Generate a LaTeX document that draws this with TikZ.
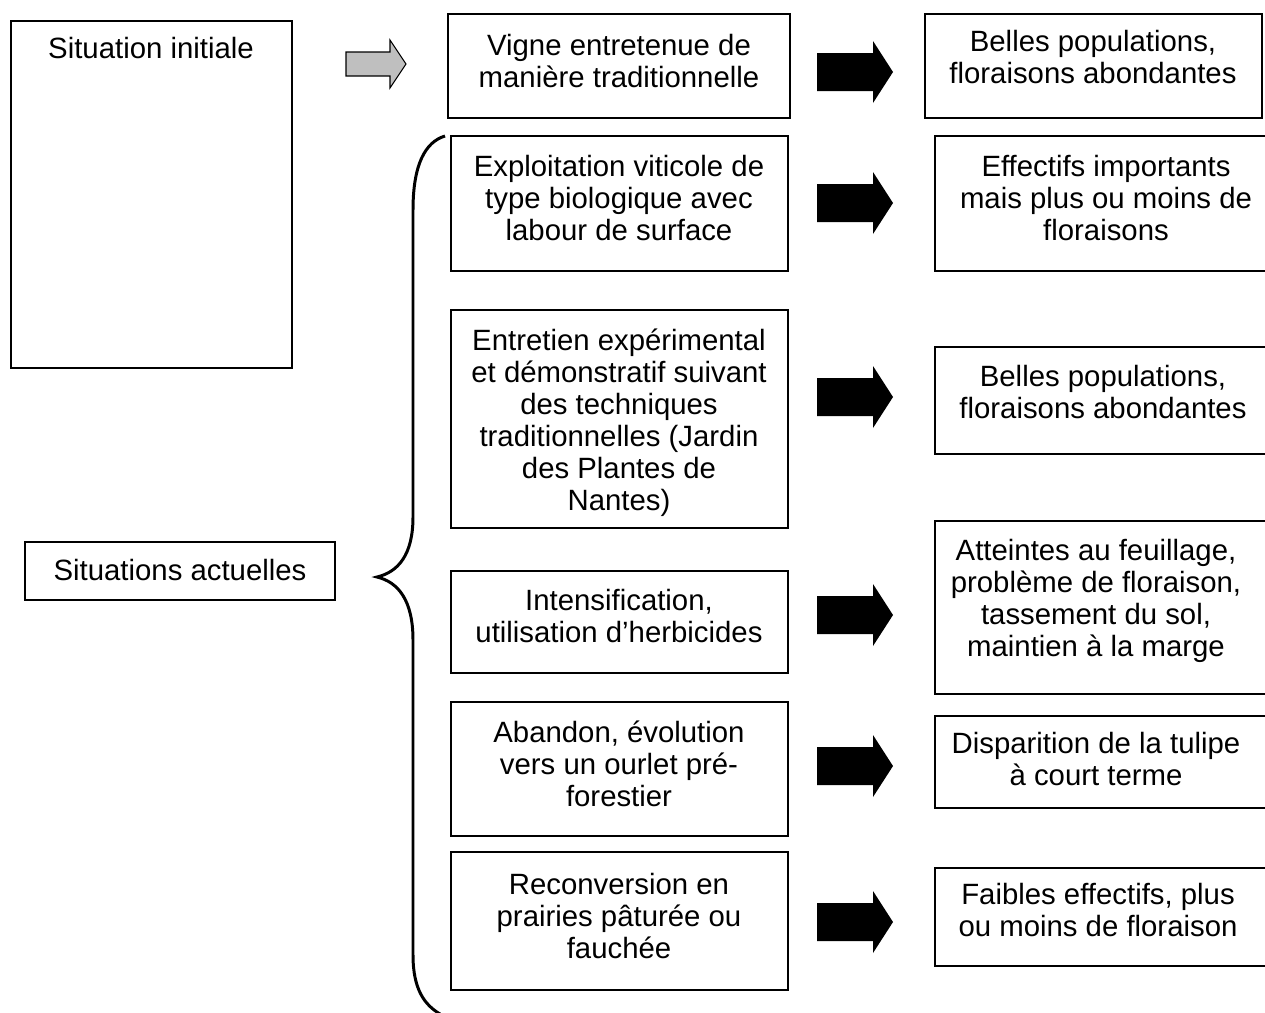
\documentclass[tikz,border=0pt]{standalone}
\usepackage{fontspec}
\setmainfont{Liberation Sans}
\usetikzlibrary{calc}

\tikzset{
  txt/.style={align=center, inner sep=0pt, font=\fontsize{16.7}{18.2}\selectfont},
  boxline/.style={line width=0.8pt},
  grayarrow/.pic={
    \filldraw[fill=gray!50, line width=0.6pt]
      (-30,-12) -- (14,-12) -- (14,-24) -- (30,0) -- (14,24) -- (14,12) -- (-30,12) -- cycle;},
  blackarrow/.pic={
    \fill[black]
      (-38,-19) -- (18,-19) -- (18,-31) -- (38,0) -- (18,31) -- (18,19) -- (-38,19) -- cycle;}
}

\begin{document}
\begin{tikzpicture}[x=0.02cm, y=-0.02cm]
  \useasboundingbox (0,0) rectangle (1265,1012);

  % left column
  \draw[boxline] (11,21) rectangle (292,368);
  \node[txt] (init) at (151,48) {Situation initiale};
  \draw[boxline] (25,542) rectangle (335,600);
  \node[txt] (actu) at (180,570) {Situations actuelles};

  % middle column
  \draw[boxline] (448,14) rectangle (790,118);
  \node[txt] (vigne) at (619,61) {Vigne entretenue de\\mani\`ere traditionnelle};
  \draw[boxline] (451,136) rectangle (788,271);
  \node[txt] (bio) at (619,198) {Exploitation viticole de\\type biologique avec\\labour de surface};
  \draw[boxline] (451,310) rectangle (788,528);
  \node[txt] (jardin) at (619,423) {Entretien exp\'erimental\\et d\'emonstratif suivant\\des techniques\\traditionnelles (Jardin\\des Plantes de\\Nantes)};
  \draw[boxline] (451,571) rectangle (788,673);
  \node[txt] (intens) at (619,616) {Intensification,\\utilisation d’herbicides};
  \draw[boxline] (451,702) rectangle (788,836);
  \node[txt] (abandon) at (619,764) {Abandon, \'evolution\\vers un ourlet pr\'e-\\forestier};
  \draw[boxline] (451,852) rectangle (788,990);
  \node[txt] (prairie) at (619,916) {Reconversion en\\prairies p\^atur\'ee ou\\fauch\'ee};

  % right column
  \draw[boxline] (925,14) rectangle (1262,118);
  \node[txt] (res0) at (1093,57) {Belles populations,\\floraisons abondantes};
  \draw[boxline] (935,136) rectangle (1270,271);
  \node[txt] (res1) at (1106,198) {Effectifs importants\\mais plus ou moins de\\floraisons};
  \draw[boxline] (935,347) rectangle (1270,454);
  \node[txt] (res2) at (1103,392) {Belles populations,\\floraisons abondantes};
  \draw[boxline] (935,521) rectangle (1270,694);
  \node[txt] (res3) at (1096,601) {Atteintes au feuillage,\\probl\`eme de floraison,\\tassement du sol,\\maintien \`a la marge};
  \draw[boxline] (935,716) rectangle (1270,808);
  \node[txt] (res4) at (1096,759) {Disparition de la tulipe\\\`a court terme};
  \draw[boxline] (935,868) rectangle (1270,966);
  \node[txt] (res5) at (1098,910) {Faibles effectifs, plus\\ou moins de floraison};

  % arrows
  \pic at (376,64) {grayarrow};
  \foreach \y in {72,203,397,615,766,922}
    \pic at (855,\y) {blackarrow};

  % brace
  \draw[line width=1.7pt]
    (445,136) .. controls (425,142) and (413,165) .. (413,210)
    -- (413,517) .. controls (413,555) and (398,572) .. (377,577)
    .. controls (398,582) and (413,600) .. (413,640)
    -- (413,955) .. controls (413,990) and (425,1005) .. (440,1014);
\end{tikzpicture}
\end{document}
